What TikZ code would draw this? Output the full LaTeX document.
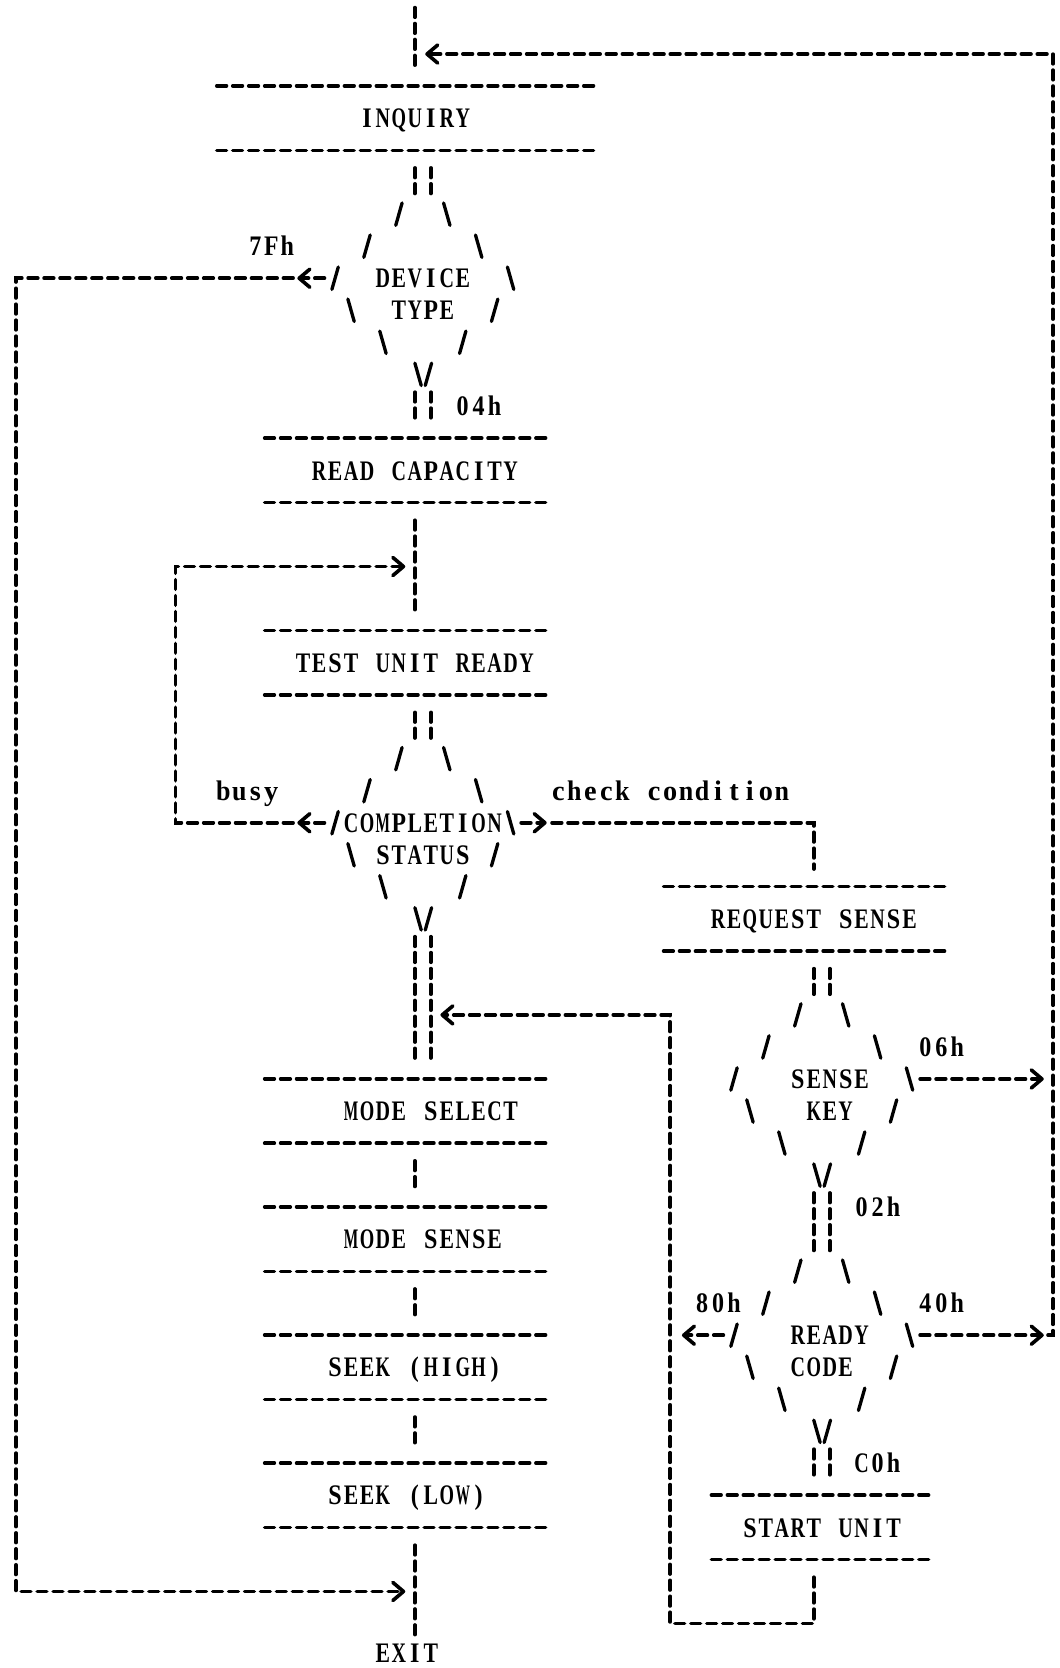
\documentclass[tikz,border=0pt]{standalone}
\usepackage{fontspec}
\newfontfamily\lbf[FakeStretch=0.85]{Liberation Serif Bold}
\newfontfamily\lbfl{Liberation Serif Bold}
\usetikzlibrary{arrows.meta}
\ExplSyntaxOn
\box_new:N \l_asc_box
\cs_new_protected:Npn \asc_char:n #1
  {
    \hbox_set:Nn \l_asc_box {#1}
    \dim_compare:nNnT { \box_wd:N \l_asc_box } > { 13.6pt }
      { \box_scale:Nnn \l_asc_box { \fp_eval:n { 13.6 / \dim_to_fp:n { \box_wd:N \l_asc_box } } } { 1 } }
    \makebox[15pt]{\box_use:N \l_asc_box}
  }
\NewDocumentCommand\mono{m}{\str_map_inline:nn{#1}{\asc_char:n{##1}}}
\ExplSyntaxOff
\tikzset{
  dl/.style={line width=3.4pt,line cap=round,dash pattern=on 9.1pt off 5.9pt},
  arr/.style={-{Straight Barb[length=10pt,width=17pt,round]}},
  sl/.style={line width=3.1pt,line cap=round},
  txt/.style={inner sep=0pt,anchor=base,font=\lbf\fontsize{26.6pt}{30pt}\selectfont},
  txtl/.style={txt,font=\lbfl\fontsize{26.6pt}{30pt}\selectfont},
  cbox/.style={inner sep=0pt,minimum height=60.22pt,
    append after command={(\tikzlastnode.north west) edge[dl] (\tikzlastnode.north east)
                          (\tikzlastnode.south west) edge[dl] (\tikzlastnode.south east)}},
  dbox/.style={inner sep=0pt,minimum width=180pt,minimum height=180.66pt},
  bb/.style={shorten <=16.5pt,shorten >=16.5pt},
  bd/.style={shorten <=16.5pt,shorten >=1.5pt},
  dd/.style={shorten <=1.5pt,shorten >=1.5pt},
  db/.style={shorten <=1.5pt,shorten >=16.5pt},
  pics/dmd/.style={code={
    \foreach \c/\r in {-1.5/-2.5,-3.5/-1.5,-5.5/-0.5,4.5/0.5,2.5/1.5,0.35/2.5}
      {\draw[sl] (\c-0.2,\r+0.35) -- (\c+0.2,\r-0.35);}
    \foreach \c/\r in {1.5/-2.5,3.5/-1.5,5.5/-0.5,-4.5/0.5,-2.5/1.5,-0.3/2.5}
      {\draw[sl] (\c-0.2,\r-0.35) -- (\c+0.2,\r+0.35);}
  }}
}
\begin{document}
\begin{tikzpicture}[x=15pt,y=-30.11pt]
\fill[white] (-1,-0.687) rectangle (65.4,51.39);
\path[use as bounding box] (-1,-0.687) rectangle (65.4,51.39);

\coordinate (L1) at (25,0);
\coordinate (L2) at (26,0);
\coordinate (R1) at (50,0);
\coordinate (R2) at (51,0);
\coordinate (entry) at (25,-0.45);
\coordinate (ret) at (25.65,1);

% process boxes
\node[cbox,minimum width=357pt] (inq)  at (24.5,3)  {};
\node[cbox,minimum width=267pt] (rcap) at (24.5,14) {};
\node[cbox,minimum width=267pt] (tur)  at (24.5,20) {};
\node[cbox,minimum width=267pt] (msel) at (24.5,34) {};
\node[cbox,minimum width=267pt] (msen) at (24.5,38) {};
\node[cbox,minimum width=267pt] (skh)  at (24.5,42) {};
\node[cbox,minimum width=267pt] (skl)  at (24.5,46) {};
\node[cbox,minimum width=267pt] (rsen) at (49.5,28) {};
\node[cbox,minimum width=207pt] (sunit) at (50.5,47) {};

% decision diamonds
\node[dbox] (dev) at (25.5,8.5) {};  \pic at (dev) {dmd};
\node[dbox] (cs)  at (25.5,25.5) {}; \pic at (cs) {dmd};
\node[dbox] (sk)  at (50.5,33.5) {}; \pic at (sk) {dmd};
\node[dbox] (rcd) at (50.5,41.5) {}; \pic at (rcd) {dmd};

% texts
\node[txt] (tinq)  at (25,3.3)  {\mono{INQUIRY}};
\node[txt] (trcap) at (25,14.3) {\mono{READ CAPACITY}};
\node[txt] (ttur)  at (25,20.3) {\mono{TEST UNIT READY}};
\node[txt] (tmsel) at (26,34.3) {\mono{MODE SELECT}};
\node[txt] (tmsen) at (25.5,38.3) {\mono{MODE SENSE}};
\node[txt] (tskh)  at (25,42.3) {\mono{SEEK (HIGH)}};
\node[txt] (tskl)  at (24.5,46.3) {\mono{SEEK (LOW)}};
\node[txt] (trsen) at (50,28.3) {\mono{REQUEST SENSE}};
\node[txt] (tsu)   at (50.5,47.3) {\mono{START UNIT}};
\node[txt] (exit)  at (24.5,51.22) {\mono{EXIT}};
\node[txt] (tdev1) at (25.5,8.3) {\mono{DEVICE}};
\node[txt] (tdev2) at (25.5,9.3) {\mono{TYPE}};
\node[txt] (tcs1)  at (25.5,25.3) {\mono{COMPLETION}};
\node[txt] (tcs2)  at (25.5,26.3) {\mono{STATUS}};
\node[txt] (tsk1)  at (51,33.3) {\mono{SENSE}};
\node[txt] (tsk2)  at (51,34.3) {\mono{KEY}};
\node[txt] (trc1)  at (51,41.3) {\mono{READY}};
\node[txt] (trc2)  at (50.5,42.3) {\mono{CODE}};
\node[txt] (l7f)   at (16,7.3) {\mono{7Fh}};
\node[txt] (l04)   at (29,12.3) {\mono{04h}};
\node[txtl] (lbusy) at (14.5,24.3) {\mono{busy}};
\node[txtl] (lchk)  at (41,24.3) {\mono{check condition}};
\node[txt] (l06)   at (58,32.3) {\mono{06h}};
\node[txt] (l02)   at (54,37.3) {\mono{02h}};
\node[txt] (l80)   at (44,40.3) {\mono{80h}};
\node[txt] (l40)   at (58,40.3) {\mono{40h}};
\node[txt] (lc0)   at (54,45.3) {\mono{C0h}};

% main flow
\draw[dl,shorten >=16.5pt] (entry) -- (entry |- inq.north);
\draw[dl,bd] (inq.south -| L1) -- (dev.north -| L1);
\draw[dl,bd] (inq.south -| L2) -- (dev.north -| L2);
\draw[dl,db] (dev.south -| L1) -- (rcap.north -| L1);
\draw[dl,db] (dev.south -| L2) -- (rcap.north -| L2);
\draw[dl,bb] (rcap.south -| L1) -- (tur.north -| L1);
\draw[dl,bd] (tur.south -| L1) -- (cs.north -| L1);
\draw[dl,bd] (tur.south -| L2) -- (cs.north -| L2);
\draw[dl,db] (cs.south -| L1) -- (msel.north -| L1);
\draw[dl,db] (cs.south -| L2) -- (msel.north -| L2);
\draw[dl,bb] (msel.south -| L1) -- (msen.north -| L1);
\draw[dl,bb] (msen.south -| L1) -- (skh.north -| L1);
\draw[dl,bb] (skh.south -| L1) -- (skl.north -| L1);
\draw[dl,shorten <=16.5pt,shorten >=8pt] (skl.south -| L1) -- (exit.north -| L1);

% 7Fh branch to EXIT
\draw[dl,arr] ([yshift=15.06pt]dev.west) ++(-0.15,0) -- ++(-1.7,0) coordinate (a7);
\draw[dl,arr] ([xshift=-4pt]a7) -| (0,49) -- (24.4,49);

% busy loop
\draw[dl,arr] ([yshift=15.06pt]cs.west) ++(-0.15,0) -- ++(-1.7,0) coordinate (ab);
\draw[dl,arr] ([xshift=-4pt]ab) -| (10,17) -- (24.4,17);

% check condition
\draw[dl,arr] ([yshift=15.06pt]cs.east) ++(0.15,0) -- ++(1.6,0) coordinate (ac);
\draw[dl] ([xshift=5pt]ac) -| ([yshift=16.5pt]rsen.north -| R1);

% sense branch
\draw[dl,bd] (rsen.south -| R1) -- (sk.north -| R1);
\draw[dl,bd] (rsen.south -| R2) -- (sk.north -| R2);
\draw[dl,dd] (sk.south -| R1) -- (rcd.north -| R1);
\draw[dl,dd] (sk.south -| R2) -- (rcd.north -| R2);
\draw[dl,db] (rcd.south -| R1) -- (sunit.north -| R1);
\draw[dl,db] (rcd.south -| R2) -- (sunit.north -| R2);

% 06h / 40h back to INQUIRY
\draw[dl,arr] ([yshift=15.06pt]sk.east) ++(0.15,0) -- ++(7.75,0);
\draw[dl,arr] ([yshift=15.06pt]rcd.east) ++(0.15,0) -- ++(7.75,0) coordinate (a40);
\draw[dl,arr] ([xshift=4pt]a40) -| (65,1) -- (ret);

% 80h and START UNIT back to MODE SELECT
\draw[dl,arr] ([yshift=15.06pt]rcd.west) ++(-0.15,0) -- ++(-2.6,0);
\draw[dl,arr] ([yshift=-16.5pt]sunit.south -| R1) -- (50,50) -| (41,31) -- (26.6,31);
\end{tikzpicture}
\end{document}
